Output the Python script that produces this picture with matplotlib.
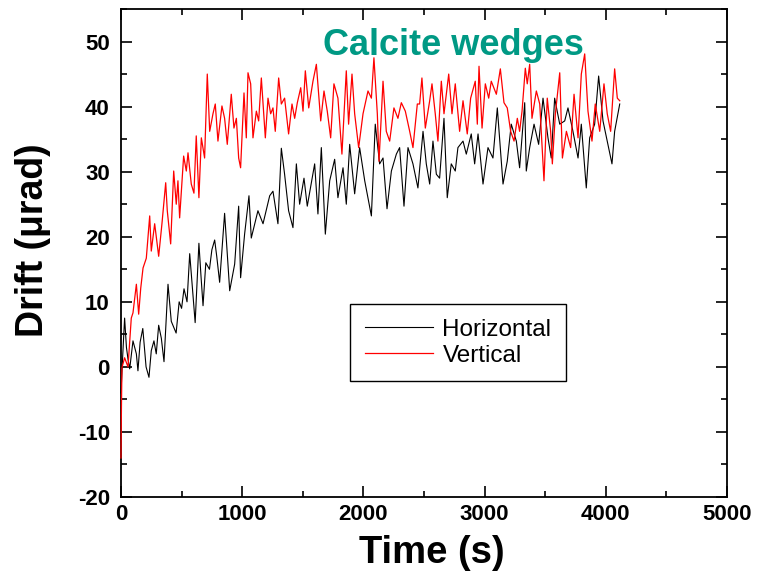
import matplotlib
matplotlib.use("Agg")
import matplotlib.pyplot as plt
from matplotlib.ticker import MultipleLocator

plt.rcParams['font.family'] = ['Liberation Sans', 'DejaVu Sans']
plt.rcParams['axes.unicode_minus'] = False

# Horizontal drift (black)
h_time = [0, 15, 30, 45, 58, 72, 99, 127, 140, 158, 180, 207, 231, 250, 272, 291,
          311, 333, 355, 388, 415, 455, 480, 500, 520, 545, 567, 590, 612, 643,
          660, 677, 700, 730, 750, 773, 790, 814, 855, 897, 938, 971, 987, 1020,
          1056, 1075, 1130, 1172, 1227, 1254, 1295, 1323, 1350, 1383, 1419, 1447,
          1474, 1510, 1537, 1598, 1625, 1653, 1686, 1722, 1763, 1790, 1832, 1859,
          1887, 1928, 1969, 2011, 2066, 2098, 2134, 2162, 2195, 2231, 2272, 2299,
          2335, 2368, 2409, 2450, 2492, 2519, 2547, 2574, 2602, 2629, 2665, 2692,
          2725, 2758, 2780, 2822, 2849, 2890, 2918, 2946, 2987, 3028, 3069, 3105,
          3152, 3187, 3220, 3262, 3289, 3331, 3344, 3372, 3408, 3446, 3482, 3523,
          3550, 3578, 3620, 3661, 3688, 3729, 3771, 3798, 3839, 3867, 3908, 3941,
          3977, 4012, 4051, 4073, 4100, 4115]
h_drift = [-4, 2, 7.5, 3, 1.2, -0.3, 4, 2, -0.6, 3.8, 5.9, 0, -1.6, 2.5, 4, 2,
           6.4, 4.4, 0.8, 12.7, 7, 5.2, 10, 9, 12, 10, 17.4, 12, 6.8, 19,
           14, 9.4, 16, 15, 18, 19.5, 17, 13, 23.6, 11.7, 15.8, 24.7, 13.7, 20.4,
           26.3, 19.8, 24, 22, 26.3, 27, 22, 33.6, 29.6, 24, 21.4, 31.2,
           25, 29, 24.7, 31.2, 23.5, 33.7, 20.4, 28.6, 31.9, 26, 30.6, 25,
           34.2, 26.6, 33.7, 28.6, 23.2, 37.3, 31.2, 32.1, 24.3, 30.1, 32.7, 33.7,
           24.7, 33.7, 31.2, 27.5, 36.2, 31.2, 28.1, 34.7, 29.6, 29, 38.2, 26,
           31.2, 30.1, 33.7, 34.7, 32.7, 35.8, 31.2, 35.8, 28.1, 33.7, 32.1, 39.8,
           28.1, 31.6, 37.3, 34.7, 30.6, 40.6, 30.1, 33.7, 37.3, 34.2, 41.3, 35.2,
           32.1, 41.3, 37.3, 37.8, 39.8, 36.2, 32.1, 37.3, 27.5, 35.2, 37.3, 44.7,
           37.8, 34.7, 31.2, 36.2, 38.9, 40.4]

# Vertical drift (red)
v_time = [0, 4, 8, 30, 58, 85, 99, 127, 146, 163, 182, 209, 237, 250, 278, 311, 338,
          369, 382, 410, 435, 456, 470, 484, 517, 539, 553, 580, 602, 621, 643,
          663, 690, 712, 732, 759, 778, 800, 833, 855, 877, 910, 932, 952, 971,
          987, 1015, 1034, 1048, 1070, 1089, 1117, 1136, 1158, 1191, 1213, 1235,
          1254, 1273, 1301, 1323, 1350, 1383, 1411, 1433, 1455, 1483, 1502, 1521,
          1549, 1584, 1612, 1648, 1675, 1702, 1730, 1757, 1790, 1823, 1859, 1878,
          1906, 1928, 1961, 1997, 2038, 2066, 2087, 2115, 2129, 2162, 2189, 2217,
          2252, 2285, 2313, 2346, 2382, 2409, 2445, 2464, 2483, 2511, 2547, 2566,
          2593, 2615, 2643, 2665, 2704, 2731, 2758, 2794, 2822, 2857, 2885, 2923,
          2940, 2954, 2979, 3006, 3034, 3055, 3097, 3130, 3160, 3187, 3215, 3243,
          3270, 3289, 3309, 3336, 3352, 3372, 3391, 3427, 3455, 3490, 3517, 3545,
          3559, 3584, 3620, 3642, 3675, 3710, 3738, 3771, 3798, 3826, 3853, 3886,
          3913, 3950, 3985, 4012, 4040, 4073, 4095, 4115]
v_drift = [-14, -6, -0.1, 1.4, 0, 7.5, 8.3, 12.7, 8.1, 12.1, 15.2, 16.7, 23.2, 17.8, 22, 17, 22,
           28.3, 24, 18.9, 30.1, 25, 28.6, 22.9, 32.4, 30.1, 32.9, 28.1, 26.7, 35.5, 26,
           35.2, 32.1, 45, 36.2, 38.9, 40.4, 34.7, 40.1, 38.2, 34.2, 41.9, 36.7, 38.2, 32.1,
           30.6, 42.1, 35.2, 45.2, 43.5, 35.2, 39.3, 37.8, 44.4, 35.2, 41.3, 38.9,
           39.8, 36.2, 44.4, 40.4, 41.3, 35.8, 40.4, 38.2, 40.6, 42.9, 39.3, 45.5,
           39.8, 43.9, 46.5, 37.8, 42.4, 39.3, 35.2, 43.5, 41.3, 32.7, 45.5, 37.3,
           45, 38.9, 33.7, 38.9, 42.4, 41.3, 47.5, 38.9, 31.6, 43.9, 36.2, 34.7,
           39.8, 38.2, 40.6, 39.3, 36.2, 33.7, 40.4, 40.4, 44.4, 36.7, 40.9, 43.5,
           38.9, 34.7, 43.9, 38.9, 45, 38.9, 43.5, 36.2, 40.9, 35.8, 41.3, 43.9,
           37.3, 46.2, 36.7, 43.5, 41.3, 43.9, 41.9, 45.8, 40.6, 39.8, 36.2, 34.7,
           38.2, 36.2, 39.3, 45.9, 43.5, 46.5, 38.2, 42.4, 40.4, 28.6, 41.3, 36.2,
           31.2, 38.9, 45.2, 32.1, 36.2, 33.7, 41.9, 35.2, 45, 48.1, 39.3, 34.7,
           40.4, 36.2, 43.5, 38.9, 36.2, 45.8, 41.3, 40.9]

fig = plt.figure(figsize=(7.58, 5.77), dpi=100)
ax = fig.add_axes([0.1596, 0.1386, 0.7995, 0.8458])

ax.plot(h_time, h_drift, color="black", linewidth=0.8, label="Horizontal",
        zorder=3, clip_on=False)
ax.plot(v_time, v_drift, color="red", linewidth=0.9, label="Vertical",
        zorder=3, clip_on=False)

ax.set_xlim(0, 5000)
ax.set_ylim(-20, 55)
ax.xaxis.set_major_locator(MultipleLocator(1000))
ax.xaxis.set_minor_locator(MultipleLocator(500))
ax.yaxis.set_major_locator(MultipleLocator(10))
ax.yaxis.set_minor_locator(MultipleLocator(5))
ax.tick_params(which="both", direction="in", top=True, right=True, width=1.2)
ax.tick_params(which="major", length=8)
ax.tick_params(which="minor", length=4.5)
ax.tick_params(axis="x", which="major", labelsize=16, pad=5)
ax.tick_params(axis="y", which="major", labelsize=16, pad=8)
for lab in ax.get_xticklabels() + ax.get_yticklabels():
    lab.set_fontweight("bold")
for sp in ax.spines.values():
    sp.set_linewidth(1.3)

ax.set_xlabel("Time (s)", fontsize=27.5, fontweight="bold")
ax.set_ylabel("Drift (μrad)", fontsize=27, fontweight="bold")
ax.xaxis.set_label_coords(0.513, -0.078)
ax.yaxis.set_label_coords(-0.115, 0.527)

ax.text(2740, 48, "Calcite wedges", color="#009984", fontsize=26,
        fontweight="bold", ha="center", va="baseline")

leg = ax.legend(loc="upper left", bbox_to_anchor=(0.378, 0.395), fontsize=17.5,
                fancybox=False, framealpha=1, edgecolor="black",
                handlelength=2.8, handletextpad=0.4, borderpad=0.6,
                borderaxespad=0, labelspacing=0.15)
leg.get_frame().set_linewidth(1.0)

fig.savefig("out.png", dpi=100)
